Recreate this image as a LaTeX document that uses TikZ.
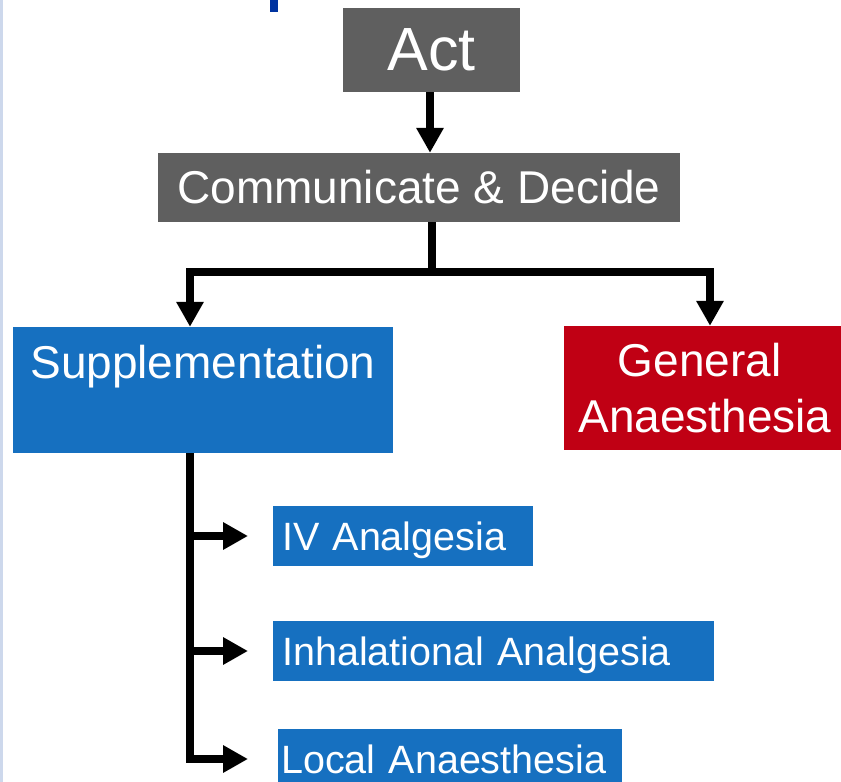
\documentclass[tikz,border=0pt]{standalone}
\usepackage{fontspec}
\setmainfont{Liberation Sans}
\usetikzlibrary{arrows.meta}
\definecolor{boxgray}{RGB}{95,95,95}
\definecolor{boxblue}{RGB}{22,112,192}
\definecolor{boxred}{RGB}{192,0,20}
\definecolor{titleblue}{RGB}{0,51,160}
\definecolor{edgeblue}{RGB}{205,216,236}
\tikzset{
  box/.style={inner sep=0pt, text=white, fill=#1},
  conn/.style={line width=7.5pt, draw=black},
  arr/.style={conn, -{Triangle[length=25pt,width=26pt]}},
  bigfont/.style={font=\fontsize{61}{70}\selectfont},
  midfont/.style={font=\fontsize{46}{56}\selectfont},
  smallfont/.style={font=\fontsize{39.5}{46}\selectfont},
  subbox/.style={box=boxblue, smallfont, minimum height=60pt, text height=28pt,
    text depth=0pt, align=left, anchor=west},
}
\begin{document}
\begin{tikzpicture}[x=1pt,y=-1pt]
  \clip (0,0) rectangle (841,782);
  \fill[white] (0,0) rectangle (841,782);
  % fragments at the edges of the slide
  \fill[edgeblue] (0,0) rectangle (3,782);
  \fill[titleblue] (270,0) rectangle (278,12);

  % main boxes
  \node[box=boxgray, bigfont, minimum width=177pt, minimum height=84pt] (act) at (431.5,50) {Act};
  \node[box=boxgray, midfont, minimum width=522pt, minimum height=69pt] (cd) at (419,187.5) {Communicate \& Decide};
  \node[box=boxblue, midfont, minimum width=380pt, text height=51pt, text depth=75pt] (supp) at (203,390) {Supplementation};
  \node[box=boxred, midfont, minimum width=282pt, minimum height=124pt, align=center] (ga) at (705,388) {General\hspace*{11pt}\\Anaesthesia};

  % sub boxes
  \node[subbox, text width=242pt, inner xsep=9pt] (iv) at (273,536) {IV Analgesia};
  \node[subbox, text width=423pt, inner xsep=9pt] (inh) at (273,651) {Inhalational Analgesia};
  \node[subbox, text width=338pt, inner xsep=3pt] (loc) at (278,759) {Local Anaesthesia};

  % helper coordinates
  \coordinate (hM) at (432,272);
  \coordinate (hL) at (190,272);
  \coordinate (hR) at (710,272);
  \coordinate (tipx) at (248,0);

  % connectors
  \draw[arr] (act.south -| 430,0) -- (cd.north -| 430,0);
  \draw[conn] (cd.south -| hM) -- (hM);
  \draw[arr] (hM) -| (supp.north -| hL);
  \draw[arr] (hM) -| (ga.north -| hR);
  \draw[arr] (supp.south -| hL) |- (loc.west -| tipx);
  \draw[arr] (hL |- iv.west) -- (iv.west -| tipx);
  \draw[arr] (hL |- inh.west) -- (inh.west -| tipx);
\end{tikzpicture}
\end{document}
